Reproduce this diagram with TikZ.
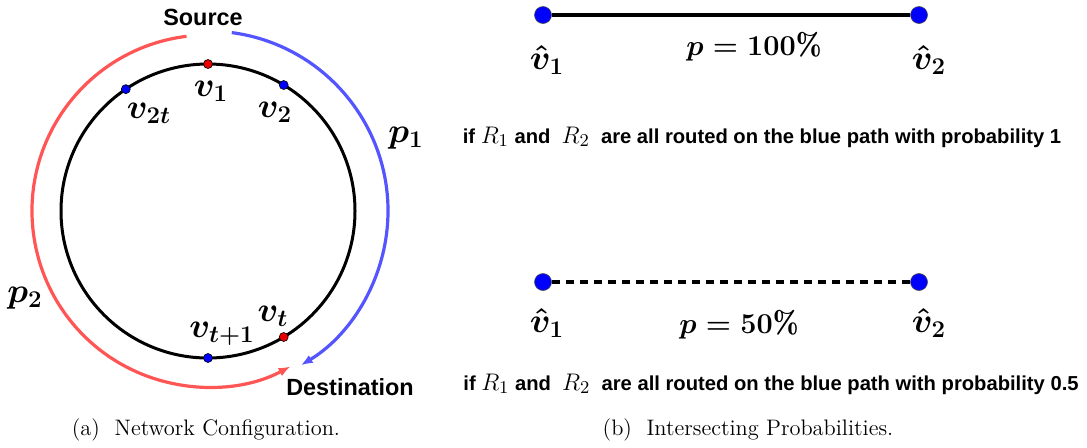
\documentclass[tikz,border=0pt]{standalone}
\usepackage{amsmath,amssymb}
\usepackage{fontspec}
\newfontfamily\arialfont{Liberation Sans}
\usepackage{xcolor}
\usepackage{tikz}
\usetikzlibrary{arrows.meta,positioning}

\definecolor{pathred}{RGB}{255,85,85}
\definecolor{pathblue}{RGB}{85,85,255}
\definecolor{dotblue}{RGB}{0,0,255}
\definecolor{dotred}{RGB}{230,0,0}
\newcommand{\rsym}[1]{{\fontsize{13}{15}\selectfont$R_{#1}$}}

\begin{document}
\begin{tikzpicture}[x=0.5pt, y=0.5pt,
  ring/.style={draw=black, line width=1.5pt},
  route/.style={line width=1.6pt, -{Latex[length=6pt,width=4.5pt]}},
  smalldot/.style={circle, draw=black, line width=0.3pt, inner sep=0pt, minimum size=4.5pt},
  bigdot/.style={circle, draw=black!70, fill=dotblue, line width=0.3pt, inner sep=0pt, minimum size=8.5pt},
  mlbl/.style={inner sep=0pt, font=\fontsize{17}{20}\selectfont\boldmath},
  hlbl/.style={inner sep=0pt, font=\fontsize{18}{21}\selectfont\boldmath},
  plbl/.style={inner sep=0pt, font=\fontsize{15.5}{18}\selectfont\boldmath},
  tag/.style={inner sep=0pt, font=\arialfont\bfseries\fontsize{11.7}{14}\selectfont},
  note/.style={inner sep=0pt, font=\arialfont\bfseries\fontsize{10.1}{13}\selectfont},
  capt/.style={inner sep=0pt, font=\fontsize{11.2}{14}\selectfont},
  link/.style={draw=black, line width=2pt}
]
\useasboundingbox (0,0) rectangle (1087,447);
% (a) ring network
\coordinate (c) at (208,236);
\draw[ring] (c) circle[radius=147];
\node[smalldot, fill=dotred] (v1) at ([shift={(90:147)}]c) {};
\node[smalldot, fill=dotblue] (v2) at ([shift={(59:147)}]c) {};
\node[smalldot, fill=dotblue] (v2t) at ([shift={(124:147)}]c) {};
\node[smalldot, fill=dotred] (vt) at ([shift={(-59:147)}]c) {};
\node[smalldot, fill=dotblue] (vt1) at ([shift={(-90:147)}]c) {};
\node[mlbl] (l1) at (211,356) {$v_1$};
\node[mlbl] (l2) at (275,335) {$v_2$};
\node[mlbl] (l2t) at (149,334) {$v_{2t}$};
\node[mlbl] (lt) at (273,131) {$v_t$};
\node[mlbl] (lt1) at (222,113) {$v_{t+1}$};
\node[mlbl] (p1) at (406,309) {$p_1$};
\node[mlbl] (p2) at (25,149) {$p_2$};
\node[tag] (src) at (203,430) {Source};
\node[tag] (dst) at (350,60) {Destination};
\coordinate (rs) at ([shift={(97:176)}]c);
\coordinate (bs) at ([shift={(82.4:180)}]c);
\draw[route, pathred] (rs) arc[start angle=97, end angle=298, radius=176];
\draw[route, pathblue] (bs) arc[start angle=82.4, end angle=-59, radius=180];
\node[capt] (ca) at (206,17) {(a)~~Network Configuration.};
% (b) probabilities
\node[bigdot] (a1) at (543,432) {};
\node[bigdot] (a2) at (919,432) {};
\draw[link] (a1) -- (a2);
\node[hlbl] (ha1) at (547,387) {$\hat{v}_1$};
\node[hlbl] (ha2) at (929,387) {$\hat{v}_2$};
\node[plbl] (pa) at (754,400) {$p=100\%$};
\node[note] (na) at (762,310) {if \rsym{1} and \ \rsym{2} \ are all routed on the blue path with probability 1};
\node[bigdot] (b1) at (543,165) {};
\node[bigdot] (b2) at (919,165) {};
\draw[link, dash pattern=on 4pt off 3pt] (b1) -- (b2);
\node[hlbl] (hb1) at (547,124) {$\hat{v}_1$};
\node[hlbl] (hb2) at (929,124) {$\hat{v}_2$};
\node[plbl] (pb) at (739,122) {$p=50\%$};
\node[note] (nb) at (771,63) {if \rsym{1} and \ \rsym{2} \ are all routed on the blue path with probability 0.5};
\node[capt] (cb) at (748,17) {(b)~~Intersecting Probabilities.};
\end{tikzpicture}
\end{document}
